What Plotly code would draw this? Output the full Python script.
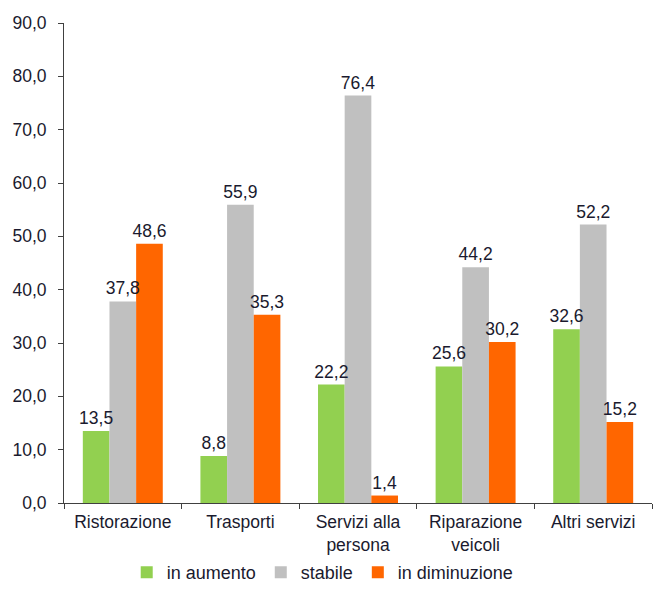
import plotly.graph_objects as go

categories = ["Ristorazione", "Trasporti", "Servizi alla<br>persona", "Riparazione<br>veicoli", "Altri servizi"]
in_aumento = [13.5, 8.8, 22.2, 25.6, 32.6]
stabile = [37.8, 55.9, 76.4, 44.2, 52.2]
in_diminuzione = [48.6, 35.3, 1.4, 30.2, 15.2]

series = [
    ("in aumento", in_aumento, "#92D050"),
    ("stabile", stabile, "#C0C0C0"),
    ("in diminuzione", in_diminuzione, "#FF6600"),
]

FONT = "Liberation Sans, Arial, sans-serif"
TXT = "#1a1a2e"
SIZE = 17.5
GAP = 0.32

fig = go.Figure()
# coloured bars
for i, (name, vals, color) in enumerate(series):
    fig.add_trace(go.Bar(
        x=categories, y=vals, name=name, offsetgroup=str(i),
        marker=dict(color=color, line=dict(width=0)),
    ))
# transparent copies carrying the value labels, so labels sit above all bars
for i, (name, vals, color) in enumerate(series):
    fig.add_trace(go.Bar(
        x=categories, y=vals, offsetgroup=str(i),
        marker=dict(color="rgba(0,0,0,0)", line=dict(width=0)),
        texttemplate="%{y:.1f}", textposition="outside", constraintext="none",
        textfont=dict(family=FONT, size=SIZE, color=TXT),
        showlegend=False, hoverinfo="skip", cliponaxis=False,
    ))

fig.update_layout(
    width=662, height=601,
    margin=dict(l=64, r=10, t=23, b=96),
    paper_bgcolor="white", plot_bgcolor="white",
    barmode="group", bargap=GAP, bargroupgap=0,
    separators=",.",
    font=dict(family=FONT, size=SIZE, color=TXT),
    showlegend=True,
    legend=dict(orientation="h", x=0.44, xanchor="center", y=-0.145, yanchor="middle",
                bgcolor="rgba(0,0,0,0)", font=dict(size=18), itemwidth=30,
                traceorder="normal"),
    yaxis=dict(range=[0, 90], dtick=10, tickformat=".1f", showgrid=False,
               showline=True, linecolor="#404040", linewidth=1,
               ticks="outside", ticklen=5, tickcolor="#404040", zeroline=False,
               tickfont=dict(size=SIZE), ticklabelstandoff=8, automargin=False),
    xaxis=dict(showline=True, linecolor="#404040", linewidth=1,
               ticks="outside", ticklen=5, tickcolor="#404040", tickson="boundaries",
               showgrid=False, tickfont=dict(size=SIZE), ticklabelstandoff=3,
               automargin=False),
)

fig.write_html("out.html")
